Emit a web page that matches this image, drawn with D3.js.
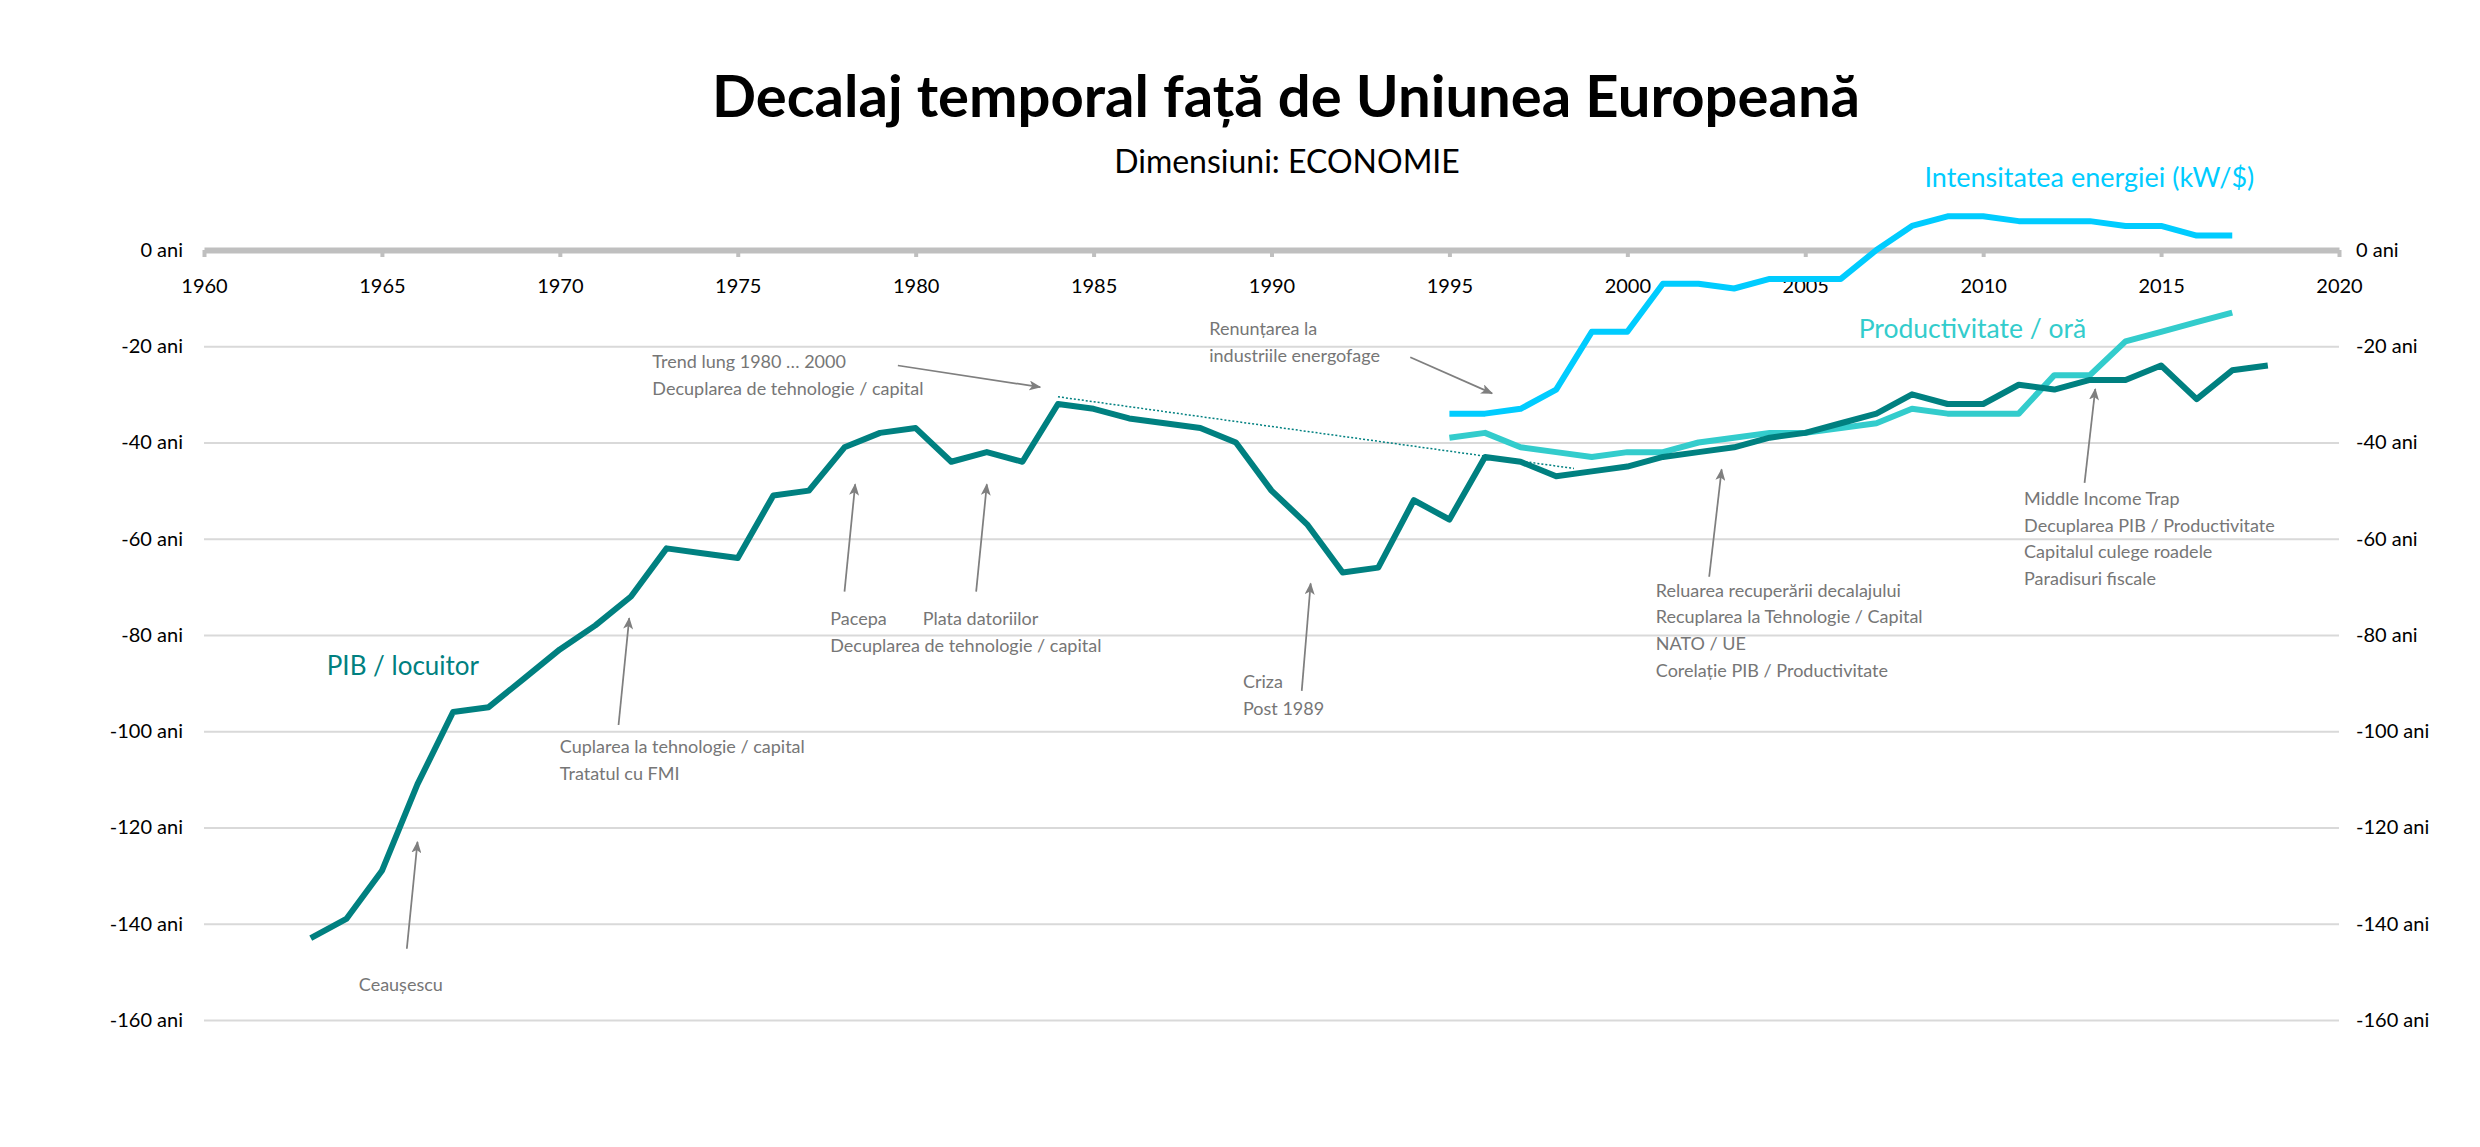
<!DOCTYPE html>
<html>
<head>
<meta charset="utf-8">
<script src="https://cdn.jsdelivr.net/npm/d3@7"></script>
<style>
  body { margin: 0; background: #fff; }
  text { font-family: Lato, "Open Sans", sans-serif; }
</style>
</head>
<body>
<div id="chart"></div>
<script>
// --- data (years behind the EU) ---
const pibYears = d3.range(1963, 2019);
const pibValues = [-143, -139, -129, -111, -96, -95, -89, -83, -78, -72,
  -62, -63, -64, -51, -50, -41, -38, -37, -44, -42,
  -44, -32, -33, -35, -36, -37, -40, -50, -57, -67,
  -66, -52, -56, -43, -44, -47, -46, -45, -43, -42,
  -41, -39, -38, -36, -34, -30, -32, -32, -28, -29,
  -27, -27, -24, -31, -25, -24];

const prodYears = d3.range(1995, 2018);
const prodValues = [-39, -38, -41, -42, -43, -42, -42, -40, -39, -38,
  -38, -37, -36, -33, -34, -34, -34, -26, -26, -19, -17, -15, -13];

const energyYears = d3.range(1995, 2018);
const energyValues = [-34, -34, -33, -29, -17, -17, -7, -7, -8, -6,
  -6, -6, 0, 5, 7, 7, 6, 6, 6, 5, 5, 3, 3];

// dotted long trend 1984 ... 1998
const trendYears = [1984, 1998.5];
const trendValues = [-30.5, -45.4];

const xTicks = [1960, 1965, 1970, 1975, 1980, 1985, 1990, 1995, 2000, 2005, 2010, 2015, 2020];
const yTicks = [0, -20, -40, -60, -80, -100, -120, -140, -160];

const title = "Decalaj temporal față de Uniunea Europeană";
const subtitle = "Dimensiuni: ECONOMIE";

// --- layout ---
const width = 2480;
const height = 1147;

const svg = d3.select("#chart")
  .append("svg")
    .attr("width", width)
    .attr("height", height);

svg.append("rect")
    .attr("width", width)
    .attr("height", height)
    .attr("fill", "#fff");

const x = d3.scaleLinear().domain([1960, 2020]).range([204, 2339]);
const y = d3.scaleLinear().domain([-160, 0]).range([1020, 250]);

// titles
svg.append("text")
    .attr("x", 1286).attr("y", 117)
    .attr("text-anchor", "middle")
    .attr("font-size", 58).attr("font-weight", 700)
    .attr("fill", "#000")
    .text(title);

svg.append("text")
    .attr("x", 1287).attr("y", 173)
    .attr("text-anchor", "middle")
    .attr("font-size", 32)
    .attr("fill", "#000")
    .text(subtitle);

// gridlines (not at 0, that is the axis)
svg.append("g")
    .attr("transform", `translate(${x(1960)},0)`)
    .call(d3.axisRight(y).tickValues(yTicks.filter(d => d !== 0))
      .tickSize(x(2020) - x(1960)).tickFormat(""))
    .call(g => g.select(".domain").remove())
    .call(g => g.selectAll("line").attr("stroke", "#d9d9d9").attr("stroke-width", 2));

// left and right value labels
const fmt = d => d + " ani";
svg.append("g")
    .attr("transform", `translate(${x(1960) - 18},0)`)
    .call(d3.axisLeft(y).tickValues(yTicks).tickSize(0).tickFormat(fmt))
    .call(g => g.select(".domain").remove())
    .call(g => g.selectAll("text").attr("font-size", 20).attr("fill", "#000")
      .attr("font-family", "Lato, sans-serif"));

svg.append("g")
    .attr("transform", `translate(${x(2020) + 14},0)`)
    .call(d3.axisRight(y).tickValues(yTicks).tickSize(0).tickFormat(fmt))
    .call(g => g.select(".domain").remove())
    .call(g => g.selectAll("text").attr("font-size", 20).attr("fill", "#000")
      .attr("font-family", "Lato, sans-serif"));

// year axis sitting on the 0 line
const xAxis = svg.append("g")
    .attr("transform", `translate(0,${y(0)})`)
    .call(d3.axisBottom(x).tickValues(xTicks).tickSize(7).tickSizeOuter(0)
      .tickFormat(d3.format("d")));
xAxis.select(".domain").attr("stroke", "#bfbfbf").attr("stroke-width", 6);
xAxis.selectAll(".tick line").attr("stroke", "#bfbfbf").attr("stroke-width", 4);
xAxis.selectAll(".tick text")
    .attr("y", 29)
    .attr("font-size", 20).attr("fill", "#000")
    .attr("font-family", "Lato, sans-serif");

// lines
const line = d3.line().x(d => x(d[0])).y(d => y(d[1]));
const zipSeries = (ys, vs) => ys.map((yr, i) => [yr, vs[i]]);

svg.append("path")
    .datum(zipSeries(trendYears, trendValues))
    .attr("d", line)
    .attr("fill", "none")
    .attr("stroke", "#008080")
    .attr("stroke-width", 1.5)
    .attr("stroke-dasharray", "2,2");

const series = [
  { name: "Productivitate / oră", years: prodYears, values: prodValues, color: "#33cccc",
    label: [2006.5, -18.3], size: 26.5 },
  { name: "Intensitatea energiei (kW/$)", years: energyYears, values: energyValues, color: "#00ccff",
    label: [2008.35, 13.1], size: 27 },
  { name: "PIB / locuitor", years: pibYears, values: pibValues, color: "#008080",
    label: [1963.45, -88.4], size: 26 }
];

series.forEach(s => {
  svg.append("path")
      .datum(zipSeries(s.years, s.values))
      .attr("d", line)
      .attr("fill", "none")
      .attr("stroke", s.color)
      .attr("stroke-width", 6)
      .attr("stroke-linejoin", "round");

  svg.append("text")
      .attr("x", x(s.label[0])).attr("y", y(s.label[1]))
      .attr("font-size", s.size)
      .attr("fill", s.color)
      .text(s.name);
});

// annotations with arrows
svg.append("defs").append("marker")
    .attr("id", "arrow")
    .attr("viewBox", "0 0 12 10")
    .attr("refX", 11).attr("refY", 5)
    .attr("markerWidth", 12).attr("markerHeight", 10)
    .attr("markerUnits", "userSpaceOnUse")
    .attr("orient", "auto")
  .append("path")
    .attr("d", "M0,0 L12,5 L0,10 L3,5 Z")
    .attr("fill", "#7f7f7f");

const notes = [
  { lines: ["Trend lung 1980 … 2000", "Decuplarea de tehnologie / capital"],
    at: [1972.6, -24.5], from: [1979.5, -24.0], to: [1983.5, -28.5] },
  { lines: ["Pacepa", "Decuplarea de tehnologie / capital"],
    at: [1977.6, -77.9], from: [1978.0, -71.0], to: [1978.3, -48.7] },
  { lines: ["Plata datoriilor"],
    at: [1980.2, -77.9], from: [1981.7, -71.0], to: [1982.0, -48.7] },
  { lines: ["Criza", "Post 1989"],
    at: [1989.2, -91.1], from: [1990.85, -91.6], to: [1991.1, -69.3] },
  { lines: ["Renunțarea la", "industriile energofage"],
    at: [1988.25, -17.7], from: [1993.9, -22.3], to: [1996.2, -29.8] },
  { lines: ["Ceaușescu"],
    at: [1964.35, -154.0], from: [1965.7, -145.2], to: [1966.0, -123.0] },
  { lines: ["Cuplarea la tehnologie / capital", "Tratatul cu FMI"],
    at: [1970.0, -104.5], from: [1971.65, -98.7], to: [1971.95, -76.5] },
  { lines: ["Reluarea recuperării decalajului", "Recuplarea la Tehnologie / Capital",
            "NATO / UE", "Corelație PIB / Productivitate"],
    at: [2000.8, -72.0], from: [2002.3, -67.9], to: [2002.65, -45.6] },
  { lines: ["Middle Income Trap", "Decuplarea PIB / Productivitate",
            "Capitalul culege roadele", "Paradisuri fiscale"],
    at: [2011.15, -53.0], from: [2012.85, -48.4], to: [2013.15, -28.9] }
];

notes.forEach(n => {
  svg.append("line")
      .attr("x1", x(n.from[0])).attr("y1", y(n.from[1]))
      .attr("x2", x(n.to[0])).attr("y2", y(n.to[1]))
      .attr("stroke", "#7f7f7f")
      .attr("stroke-width", 1.75)
      .attr("marker-end", "url(#arrow)");

  const t = svg.append("text")
      .attr("x", x(n.at[0])).attr("y", y(n.at[1]))
      .attr("font-size", 18)
      .attr("fill", "#767676");
  n.lines.forEach((l, i) => {
    t.append("tspan")
        .attr("x", x(n.at[0]))
        .attr("dy", i === 0 ? 0 : 26.7)
        .text(l);
  });
});
</script>
</body>
</html>
